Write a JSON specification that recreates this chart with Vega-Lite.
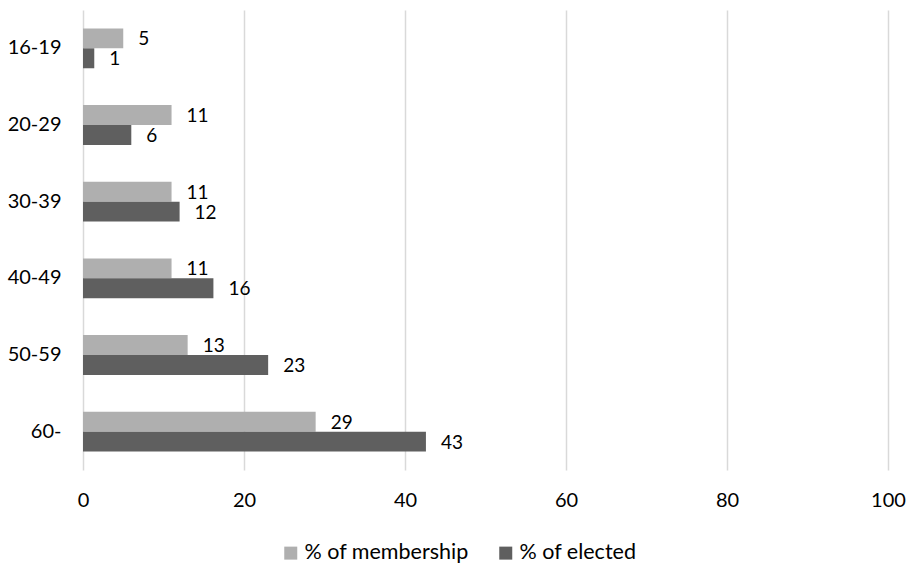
{
  "$schema": "https://vega.github.io/schema/vega-lite/v6.json",
  "width": 805,
  "height": 460,
  "autosize": "none",
  "padding": {"left": 83, "top": 10, "right": 25, "bottom": 94},
  "background": "white",
  "config": {
    "view": {"stroke": null},
    "font": "Lato",
    "axis": {"labelFont": "Lato", "labelFontSize": 20, "labelColor": "#000000"},
    "legend": {"labelFont": "Lato", "labelFontSize": 21.5, "labelColor": "#000000", "labelLimit": 400}
  },
  "data": {
    "values": [
      {"age": "16-19", "series": "% of membership", "value": 5.0},
      {"age": "16-19", "series": "% of elected", "value": 1.4},
      {"age": "20-29", "series": "% of membership", "value": 11.0},
      {"age": "20-29", "series": "% of elected", "value": 6.0},
      {"age": "30-39", "series": "% of membership", "value": 11.0},
      {"age": "30-39", "series": "% of elected", "value": 12.0},
      {"age": "40-49", "series": "% of membership", "value": 11.0},
      {"age": "40-49", "series": "% of elected", "value": 16.2},
      {"age": "50-59", "series": "% of membership", "value": 13.0},
      {"age": "50-59", "series": "% of elected", "value": 23.0},
      {"age": "60-", "series": "% of membership", "value": 28.9},
      {"age": "60-", "series": "% of elected", "value": 42.6}
    ]
  },
  "encoding": {
    "y": {
      "field": "age",
      "type": "nominal",
      "sort": ["16-19", "20-29", "30-39", "40-49", "50-59", "60-"],
      "scale": {"paddingInner": 0.48, "paddingOuter": 0.24},
      "axis": {"title": null, "domain": false, "ticks": false, "labelPadding": 22, "grid": false}
    },
    "yOffset": {
      "field": "series",
      "type": "nominal",
      "sort": ["% of membership", "% of elected"],
      "scale": {"paddingInner": 0, "paddingOuter": 0}
    },
    "x": {
      "field": "value",
      "type": "quantitative",
      "scale": {"domain": [0, 100], "nice": false},
      "axis": {
        "title": null,
        "values": [0, 20, 40, 60, 80, 100],
        "domain": false,
        "ticks": false,
        "grid": true,
        "gridColor": "#d9d9d9",
        "gridWidth": 1.5,
        "labelPadding": 20,
        "labelFlush": false
      }
    }
  },
  "layer": [
    {
      "mark": {"type": "bar"},
      "encoding": {
        "color": {
          "field": "series",
          "type": "nominal",
          "scale": {"domain": ["% of membership", "% of elected"], "range": ["#afafaf", "#5f5f5f"]},
          "legend": {
            "title": null,
            "orient": "none",
            "direction": "horizontal",
            "legendX": 197,
            "legendY": 532,
            "symbolType": "square",
            "symbolSize": 169,
            "symbolStrokeWidth": 0,
            "labelOffset": 3,
            "columnPadding": 26
          }
        }
      }
    },
    {
      "mark": {"type": "text", "align": "left", "baseline": "middle", "dx": 15, "dy": 1, "fontSize": 19, "font": "Lato", "color": "#000000"},
      "encoding": {
        "text": {"field": "value", "type": "quantitative", "format": ".0f"}
      }
    }
  ]
}
